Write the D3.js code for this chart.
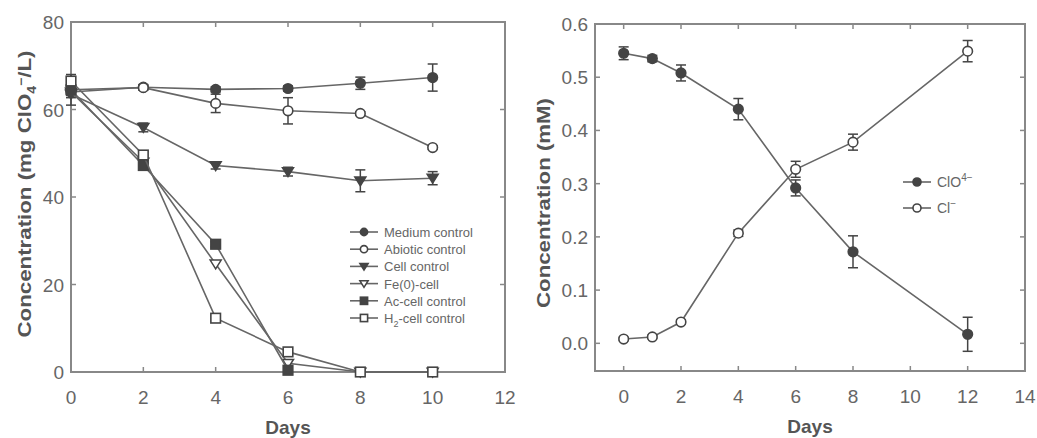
<!DOCTYPE html>
<html>
<head>
<meta charset="utf-8">
<title>Perchlorate reduction</title>
<script src="https://cdn.jsdelivr.net/npm/d3@7"></script>
<style>
  body { margin: 0; background: #fff; }
  text { font-family: "Liberation Sans", Arial, sans-serif; }
</style>
</head>
<body>
<script>
// ---- left panel data (mg ClO4-/L) ----
var daysL = [0, 2, 4, 6, 8, 10];
var medium = [64, 65.1, 64.6, 64.8, 66, 67.3];
var mediumErr = [0.8, 0.6, 0.6, 0.6, 1.4, 3.1];
var abiotic = [64.5, 65, 61.4, 59.7, 59.1, 51.3];
var abioticErr = [0.8, 0.6, 2.1, 3, 0.4, 0.4];
var cell = [63.5, 55.9, 47.2, 45.8, 43.7, 44.3];
var cellErr = [0.8, 1, 0.8, 1, 2.5, 1.5];
var fe = [64, 48, 24.7, 2, 0, 0];
var ac = [64.5, 47.2, 29.2, 0.4];
var acErr = [3.5, 0.6, 0.6, 0.4];
var h2 = [66.5, 49.6, 12.3, 4.6, 0, 0];
var h2Err = [1, 0.8, 0.6, 0.6, 0, 0];

// ---- right panel data (mM) ----
var daysR = [0, 1, 2, 4, 6, 8, 12];
var clo4 = [0.545, 0.535, 0.508, 0.44, 0.292, 0.172, 0.017];
var clo4Err = [0.012, 0.006, 0.015, 0.02, 0.015, 0.03, 0.032];
var chloride = [0.008, 0.012, 0.04, 0.207, 0.327, 0.378, 0.549];
var chlorideErr = [0.003, 0.003, 0.004, 0.006, 0.015, 0.015, 0.02];

var leftTicksX = [0, 2, 4, 6, 8, 10, 12];
var leftTicksY = [0, 20, 40, 60, 80];
var rightTicksX = [0, 2, 4, 6, 8, 10, 12, 14];
var rightTicksY = [0.0, 0.1, 0.2, 0.3, 0.4, 0.5, 0.6];

var W = 1037, H = 438;
var lineCol = "#666", markCol = "#444", frameCol = "#888", textCol = "#666";

var svg = d3.select("body").append("svg").attr("width", W).attr("height", H);

// marker shapes, sz = half size
function marker(g, type, x, y, sz) {
  sz = sz || 4.8;
  var filled = (type == "circleF" || type == "triF" || type == "squareF");
  var fill = filled ? markCol : "#fff";
  if (type.indexOf("circle") == 0) {
    g.append("circle").attr("cx", x).attr("cy", y).attr("r", sz)
      .attr("fill", fill).attr("stroke", markCol).attr("stroke-width", 1.6);
  } else if (type.indexOf("tri") == 0) {
    var s = sz * 1.15;
    g.append("path")
      .attr("d", "M" + (x - s) + "," + (y - s * 0.7) + "L" + (x + s) + "," + (y - s * 0.7) + "L" + x + "," + (y + s * 0.9) + "Z")
      .attr("fill", fill).attr("stroke", markCol).attr("stroke-width", 1.5);
  } else {
    g.append("rect").attr("x", x - sz).attr("y", y - sz).attr("width", sz * 2).attr("height", sz * 2)
      .attr("fill", fill).attr("stroke", markCol).attr("stroke-width", 1.6);
  }
}

function drawPanel(opt) {
  var g = svg.append("g");
  var x = d3.scaleLinear().domain(opt.xDom).range([opt.left, opt.right]);
  var y = d3.scaleLinear().domain(opt.yDom).range([opt.bottom, opt.top]);

  // frame
  g.append("rect").attr("x", opt.left).attr("y", opt.top)
    .attr("width", opt.right - opt.left).attr("height", opt.bottom - opt.top)
    .attr("fill", "none").attr("stroke", frameCol).attr("stroke-width", 2);

  // inward ticks on four sides
  var tl = 5;
  opt.xTicks.forEach(function (t) {
    g.append("line").attr("x1", x(t)).attr("x2", x(t)).attr("y1", opt.bottom).attr("y2", opt.bottom - tl).attr("stroke", frameCol).attr("stroke-width", 1.5);
    g.append("line").attr("x1", x(t)).attr("x2", x(t)).attr("y1", opt.top).attr("y2", opt.top + tl).attr("stroke", frameCol).attr("stroke-width", 1.5);
    g.append("text").attr("x", x(t)).attr("y", opt.bottom + 32).attr("text-anchor", "middle")
      .attr("font-size", 19).attr("fill", textCol).text(t);
  });
  opt.yTicks.forEach(function (t) {
    g.append("line").attr("x1", opt.left).attr("x2", opt.left + tl).attr("y1", y(t)).attr("y2", y(t)).attr("stroke", frameCol).attr("stroke-width", 1.5);
    g.append("line").attr("x1", opt.right).attr("x2", opt.right - tl).attr("y1", y(t)).attr("y2", y(t)).attr("stroke", frameCol).attr("stroke-width", 1.5);
    g.append("text").attr("x", opt.left - 7).attr("y", y(t) + 7).attr("text-anchor", "end")
      .attr("font-size", 19).attr("fill", textCol).text(opt.yFmt(t));
  });

  // axis titles
  g.append("text").attr("x", (opt.left + opt.right) / 2).attr("y", opt.bottom + 62)
    .attr("text-anchor", "middle").attr("font-size", 19).attr("font-weight", "bold")
    .attr("fill", "#555").text("Days");
  var yt = g.append("text")
    .attr("transform", "translate(" + opt.yTitleX + "," + opt.yTitleY + ") rotate(-90)")
    .attr("text-anchor", "middle").attr("font-size", 19).attr("font-weight", "bold").attr("fill", "#555")
    .attr("textLength", opt.yTitleLen).attr("lengthAdjust", "spacingAndGlyphs");
  opt.yTitle(yt);

  var line = d3.line().x(function (d) { return x(d[0]); }).y(function (d) { return y(d[1]); });

  opt.series.forEach(function (s) {
    var pts = s.values.map(function (v, i) { return [s.days[i], v, s.err ? s.err[i] : 0]; });
    g.append("path").attr("d", line(pts)).attr("fill", "none")
      .attr("stroke", lineCol).attr("stroke-width", 1.6);
    pts.forEach(function (p) {
      if (p[2] > 0) {
        var cx = x(p[0]), y1 = y(p[1] - p[2]), y2 = y(p[1] + p[2]);
        g.append("line").attr("x1", cx).attr("x2", cx).attr("y1", y1).attr("y2", y2).attr("stroke", markCol).attr("stroke-width", 1.5);
        g.append("line").attr("x1", cx - 5).attr("x2", cx + 5).attr("y1", y1).attr("y2", y1).attr("stroke", markCol).attr("stroke-width", 1.5);
        g.append("line").attr("x1", cx - 5).attr("x2", cx + 5).attr("y1", y2).attr("y2", y2).attr("stroke", markCol).attr("stroke-width", 1.5);
      }
    });
    pts.forEach(function (p) { marker(g, s.type, x(p[0]), y(p[1])); });
  });

  // legend
  opt.legend.forEach(function (l, i) {
    var ly = opt.legY + i * opt.legStep;
    g.append("line").attr("x1", opt.legX).attr("x2", opt.legX + 28).attr("y1", ly).attr("y2", ly)
      .attr("stroke", lineCol).attr("stroke-width", 1.6);
    marker(g, l.type, opt.legX + 14, ly, opt.legMark);
    var t = g.append("text").attr("x", opt.legX + 34).attr("y", ly + 5)
      .attr("font-size", opt.legFont).attr("fill", "#666");
    l.label(t);
  });
}

// left panel
drawPanel({
  left: 71, right: 505, top: 22, bottom: 372,
  xDom: [0, 12], yDom: [0, 80],
  xTicks: leftTicksX, yTicks: leftTicksY,
  yFmt: function (t) { return t; },
  yTitleX: 31, yTitleY: 194, yTitleLen: 287,
  yTitle: function (t) {
    t.append("tspan").text("Concentration (mg ClO");
    t.append("tspan").attr("font-size", 12).attr("dy", 5).text("4");
    t.append("tspan").attr("font-size", 12).attr("dy", -11).text("−");
    t.append("tspan").attr("dy", 6).text("/L)");
  },
  series: [
    { days: daysL, values: medium, err: mediumErr, type: "circleF" },
    { days: daysL, values: abiotic, err: abioticErr, type: "circleO" },
    { days: daysL, values: cell, err: cellErr, type: "triF" },
    { days: daysL, values: fe, err: null, type: "triO" },
    { days: daysL.slice(0, ac.length), values: ac, err: acErr, type: "squareF" },
    { days: daysL, values: h2, err: h2Err, type: "squareO" }
  ],
  legX: 350, legY: 232, legStep: 17.2, legFont: 13, legMark: 3.6,
  legend: [
    { type: "circleF", label: function (t) { t.text("Medium control"); } },
    { type: "circleO", label: function (t) { t.text("Abiotic control"); } },
    { type: "triF", label: function (t) { t.text("Cell control"); } },
    { type: "triO", label: function (t) { t.text("Fe(0)-cell"); } },
    { type: "squareF", label: function (t) { t.text("Ac-cell control"); } },
    { type: "squareO", label: function (t) {
        t.append("tspan").text("H");
        t.append("tspan").attr("font-size", 9).attr("dy", 4).text("2");
        t.append("tspan").attr("dy", -4).text("-cell control");
      } }
  ]
});

// right panel
drawPanel({
  left: 595, right: 1025, top: 24, bottom: 371,
  xDom: [-1, 14], yDom: [-0.052, 0.6],
  xTicks: rightTicksX, yTicks: rightTicksY,
  yFmt: d3.format(".1f"),
  yTitleX: 550, yTitleY: 203, yTitleLen: 210,
  yTitle: function (t) { t.text("Concentration (mM)"); },
  series: [
    { days: daysR, values: clo4, err: clo4Err, type: "circleF" },
    { days: daysR, values: chloride, err: chlorideErr, type: "circleO" }
  ],
  legX: 903, legY: 182, legStep: 26, legFont: 14, legMark: 4,
  legend: [
    { type: "circleF", label: function (t) {
        t.append("tspan").text("ClO");
        t.append("tspan").attr("font-size", 10).attr("dy", -6).text("4−");
      } },
    { type: "circleO", label: function (t) {
        t.append("tspan").text("Cl");
        t.append("tspan").attr("font-size", 10).attr("dy", -6).text("−");
      } }
  ]
});
</script>
</body>
</html>
